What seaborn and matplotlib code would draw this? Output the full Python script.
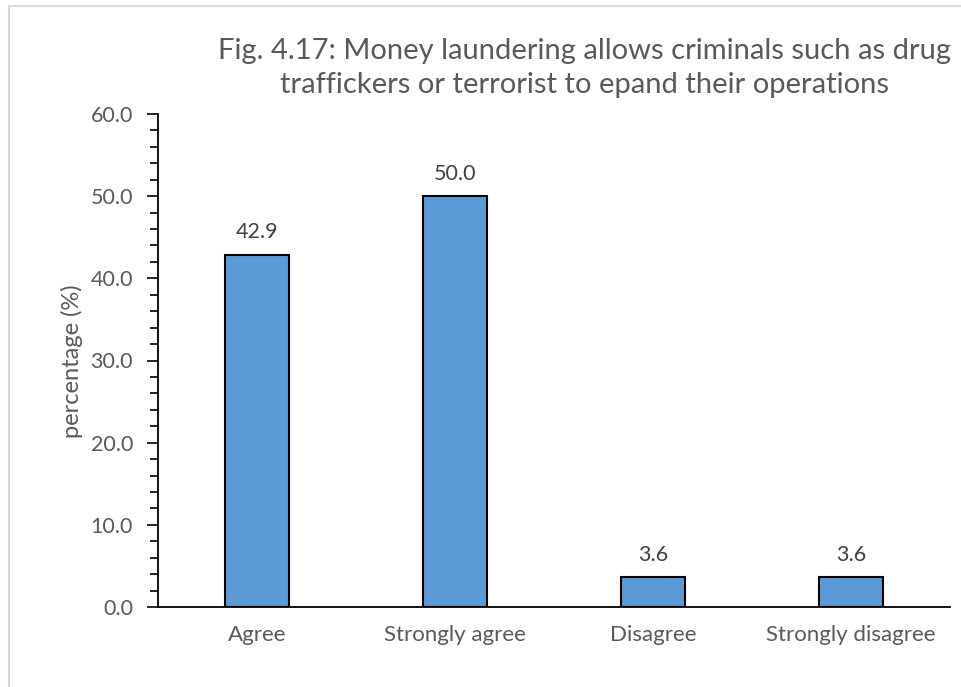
import matplotlib
matplotlib.use("Agg")
import matplotlib.pyplot as plt
from matplotlib.patches import Rectangle
from matplotlib.ticker import MultipleLocator, FormatStrFormatter
import seaborn as sns
import pandas as pd

categories = ["Agree", "Strongly agree", "Disagree", "Strongly disagree"]
percentages = [42.9, 50.0, 3.6, 3.6]

title_text = ("Fig. 4.17: Money laundering allows criminals such as drug\n"
              "traffickers or terrorist to epand their operations")
y_label = "percentage (%)"

sns.set_style("white")
plt.rcParams["font.family"] = ["Lato", "DejaVu Sans"]

df = pd.DataFrame({"category": categories, "pct": percentages})

fig = plt.figure(figsize=(9.61, 6.87), dpi=100)
ax = fig.add_axes([158 / 961, 1 - 607 / 687, (950 - 158) / 961, (607 - 114) / 687])

sns.barplot(data=df, x="category", y="pct", ax=ax, color="#5B9BD5",
            saturation=1, edgecolor="black", linewidth=1.5, width=0.32)

for c in ax.containers:
    ax.bar_label(c, fmt="%.1f", padding=9, fontsize=15.5, color="#404040")

ax.set_xlim(-0.5, 3.5)
ax.set_ylim(0, 60)
ax.yaxis.set_major_locator(MultipleLocator(10))
ax.yaxis.set_minor_locator(MultipleLocator(2))
ax.yaxis.set_major_formatter(FormatStrFormatter("%.1f"))

for side in ["top", "right"]:
    ax.spines[side].set_visible(False)
for side in ["left", "bottom"]:
    ax.spines[side].set_color("black")
    ax.spines[side].set_linewidth(1.3)

ax.tick_params(axis="y", which="major", direction="out", length=8, width=1.2,
               color="black", labelsize=15.5, labelcolor="#595959", pad=10, left=True)
ax.tick_params(axis="y", which="minor", direction="out", length=6, width=1.2,
               color="black", left=True)
ax.tick_params(axis="x", which="both", length=0, labelsize=16,
               labelcolor="#595959", pad=13)

ax.set_xlabel("")
ax.set_ylabel(y_label, fontsize=17, color="#595959", va="center")
ax.yaxis.set_label_coords((72 - 158) / 792, (607 - 361) / 493)

fig.text(585 / 961, 1 - 68 / 687, title_text, ha="center", va="center",
         fontsize=21, color="#595959", linespacing=1.35)

fig.patches.append(Rectangle((8.5 / 961, -0.1), 1.2, 1 - 5.5 / 687 + 0.1,
                             transform=fig.transFigure, fill=False,
                             edgecolor="#d9d9d9", linewidth=1.5, zorder=0))

fig.savefig("out.png", dpi=100)
